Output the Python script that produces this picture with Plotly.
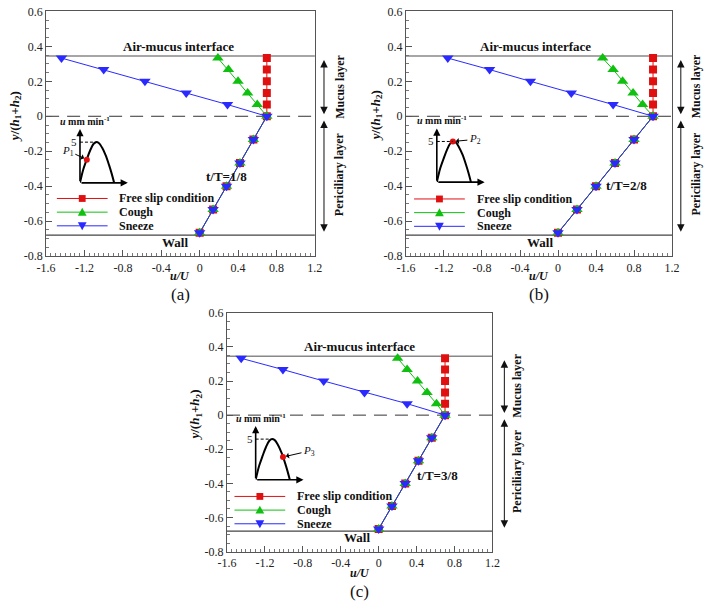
import plotly.graph_objects as go

W, H = 709, 606
FONT = "Liberation Serif, Times New Roman, serif"

# profile heights (normalised by h1+h2), bottom to top
y_pts = [-0.667, -0.533, -0.4, -0.267, -0.133, 0.0, 0.067, 0.133, 0.2, 0.267, 0.333]

# u/U for each case and time instant
free_a = [0.0, 0.14, 0.28, 0.42, 0.56, 0.70, 0.70, 0.70, 0.70, 0.70, 0.70]
cough_a = [0.0, 0.14, 0.28, 0.42, 0.56, 0.70, 0.60, 0.50, 0.40, 0.30, 0.19]
sneeze_a = [0.0, 0.14, 0.28, 0.42, 0.56, 0.70, 0.29, -0.14, -0.57, -1.00, -1.44]

free_b = [0.0, 0.20, 0.40, 0.60, 0.80, 1.00, 1.00, 1.00, 1.00, 1.00, 1.00]
cough_b = [0.0, 0.20, 0.40, 0.60, 0.80, 1.00, 0.89, 0.79, 0.68, 0.58, 0.47]
sneeze_b = [0.0, 0.20, 0.40, 0.60, 0.80, 1.00, 0.58, 0.14, -0.29, -0.72, -1.16]

free_c = [0.0, 0.14, 0.28, 0.42, 0.56, 0.70, 0.70, 0.70, 0.70, 0.70, 0.70]
cough_c = [0.0, 0.14, 0.28, 0.42, 0.56, 0.70, 0.61, 0.51, 0.41, 0.30, 0.20]
sneeze_c = [0.0, 0.14, 0.28, 0.42, 0.56, 0.70, 0.30, -0.15, -0.58, -1.01, -1.45]

interface_y = 0.345
wall_y = -0.68

# schematic cilia stroke curve for the insets
inset_t = [0, 0.05, 0.1, 0.2, 0.3, 0.4, 0.47, 0.55, 0.65, 0.75, 0.85, 0.93, 1.0]
inset_u = [0, 0.9, 1.7, 2.9, 4.0, 4.8, 5.0, 4.9, 4.3, 3.4, 2.2, 1.1, 0]
dots = {"a": (0.2, 2.85), "b": (0.47, 5.0), "c": (0.8, 2.8)}

x_ticks = [-1.6, -1.2, -0.8, -0.4, 0, 0.4, 0.8, 1.2]
x_labels = ["-1.6", "-1.2", "-0.8", "-0.4", "0", "0.4", "0.8", "1.2"]
y_ticks = [-0.8, -0.6, -0.4, -0.2, 0, 0.2, 0.4, 0.6]
y_labels = ["-0.8", "-0.6", "-0.4", "-0.2", "0", "0.2", "0.4", "0.6"]

names = ["Free slip condition", "Cough", "Sneeze"]
colors = ["#e01010", "#10c010", "#2a2aff"]
symbols = ["square", "triangle-up", "triangle-down"]
msizes = [8, 10, 10]


def px(x):
    return x / W


def py(y):
    return 1 - y / H


def key_path(kind, cx, cy, s):
    # legend key glyph, built in pixels then turned into paper fractions
    if kind == "square":
        pts = [(cx - s / 2, cy - s / 2), (cx + s / 2, cy - s / 2),
               (cx + s / 2, cy + s / 2), (cx - s / 2, cy + s / 2)]
    elif kind == "triangle-up":
        pts = [(cx - s / 2, cy + s * 0.4), (cx + s / 2, cy + s * 0.4), (cx, cy - s * 0.5)]
    else:
        pts = [(cx - s / 2, cy - s * 0.4), (cx + s / 2, cy - s * 0.4), (cx, cy + s * 0.5)]
    return "M" + " L".join(f"{px(a):.5f},{py(b):.5f}" for a, b in pts) + " Z"


panels = {
    "a": dict(n="", dom_x=(37, 312.3), dom_y=(4.5, 255), data=[free_a, cough_a, sneeze_a],
              tt="t/T=1/8", tt_xy=(0.28, -0.345), ami_x=-0.22, wall_x=-0.26,
              arrow_x=321.7, text_x=337.3, ytitle_x=5, xtitle_y=275.5, lab_y=294.5,
              leg=(48, 196), inset=(71.7, 180), plab="<i>P</i><sub>1</sub>", poff=(-19, -9)),
    "b": dict(n="2", dom_x=(405.7, 678.3), dom_y=(4.5, 255), data=[free_b, cough_b, sneeze_b],
              tt="t/T=2/8", tt_xy=(0.72, -0.395), ami_x=-0.24, wall_x=-0.19,
              arrow_x=687.3, text_x=702.5, ytitle_x=375, xtitle_y=275.5, lab_y=294.5,
              leg=(414, 196.5), inset=(437.3, 179.3), plab="<i>P</i><sub>2</sub>", poff=(22, -2)),
    "c": dict(n="3", dom_x=(222.3, 494.3), dom_y=(313, 557.5), data=[free_c, cough_c, sneeze_c],
              tt="t/T=3/8", tt_xy=(0.62, -0.356), ami_x=-0.2, wall_x=-0.23,
              arrow_x=506.5, text_x=520, ytitle_x=190, xtitle_y=579, lab_y=598.5,
              leg=(230, 501), inset=(251.7, 484), plab="<i>P</i><sub>3</sub>", poff=(26, -6)),
}

fig = go.Figure()
annotations = []
shapes = []
layout = {}

axis_common = dict(showline=True, mirror=True, linecolor="#555", linewidth=1,
                   showgrid=False, zeroline=False, ticks="inside", ticklen=6,
                   tickcolor="#555", tickfont=dict(family=FONT, size=12, color="#222"))
txt = dict(family=FONT, size=13, color="#111", weight="bold")
mid = dict(xanchor="center", yanchor="middle", showarrow=False)

for i, (key, p) in enumerate(panels.items()):
    n = p["n"]
    xa, ya = "x" + n, "y" + n
    for k in range(3):
        fig.add_trace(go.Scatter(
            x=p["data"][k], y=y_pts, xaxis=xa, yaxis=ya, mode="lines+markers",
            name=names[k], showlegend=False,
            line=dict(color=colors[k], width=1),
            marker=dict(symbol=symbols[k], size=msizes[k], color=colors[k])))

    layout["xaxis" + n] = dict(axis_common, domain=[px(p["dom_x"][0]), px(p["dom_x"][1])],
                               range=[-1.6, 1.2], anchor=ya, tickvals=x_ticks, ticktext=x_labels,
                               minor=dict(ticks="inside", ticklen=3, tick0=-1.6, dtick=0.05,
                                          tickcolor="#777"))
    layout["yaxis" + n] = dict(axis_common, domain=[py(p["dom_y"][1]), py(p["dom_y"][0])],
                               range=[-0.8, 0.6], anchor=xa, tickvals=y_ticks, ticktext=y_labels,
                               minor=dict(ticks="inside", ticklen=3, tick0=-0.8, dtick=0.05,
                                          tickcolor="#777"))

    # hand-drawn legend (tight rows like the original)
    lx, ly = p["leg"]
    for k in range(3):
        yy = ly + 14 * k
        shapes.append(dict(type="line", xref="paper", yref="paper", x0=px(lx), x1=px(lx + 52),
                           y0=py(yy), y1=py(yy), line=dict(color=colors[k], width=1)))
        shapes.append(dict(type="path", xref="paper", yref="paper",
                           path=key_path(symbols[k], lx + 26, yy, 7 if k == 0 else 9),
                           fillcolor=colors[k], line=dict(width=0)))
        annotations.append(dict(x=px(lx + 62), y=py(yy), xref="paper", yref="paper",
                                xanchor="left", yanchor="middle", text=names[k],
                                showarrow=False, font=dict(txt, size=12)))

    # interface, zero and wall lines
    shapes.append(dict(type="line", xref=xa + " domain", yref=ya, x0=0, x1=1,
                       y0=interface_y, y1=interface_y, line=dict(color="#888", width=1.5),
                       layer="below"))
    shapes.append(dict(type="line", xref=xa + " domain", yref=ya, x0=0, x1=1,
                       y0=0, y1=0, line=dict(color="#333", width=1, dash="13px,8px"),
                       layer="below"))
    shapes.append(dict(type="line", xref=xa + " domain", yref=ya, x0=0, x1=1,
                       y0=wall_y, y1=wall_y, line=dict(color="#444", width=1.2),
                       layer="below"))

    annotations += [
        dict(mid, x=p["ami_x"], y=0.4, xref=xa, yref=ya, text="Air-mucus interface", font=txt),
        dict(mid, x=p["wall_x"], y=-0.72, xref=xa, yref=ya, text="Wall", font=txt),
        dict(mid, x=p["tt_xy"][0], y=p["tt_xy"][1], xref=xa, yref=ya, text=p["tt"], font=txt),
        dict(mid, x=px(p["ytitle_x"]), y=0, xref="paper", yref=ya, textangle=-90,
             text="<i>y</i>/(<i>h</i><sub>1</sub>+<i>h</i><sub>2</sub>)", font=txt),
        dict(mid, x=0.5, y=py(p["xtitle_y"]), xref=xa + " domain", yref="paper",
             text="<i>u/U</i>", font=dict(txt, size=12)),
        dict(mid, x=0.5, y=py(p["lab_y"]), xref=xa + " domain", yref="paper",
             text="(" + key + ")", font=dict(family=FONT, size=17, color="#111")),
        # layer arrows
        dict(x=px(p["arrow_x"]), y=0.012, xref="paper", yref=ya, ax=0, ay=0.331,
             axref="pixel", ayref=ya, text="", showarrow=True, arrowside="end+start",
             arrowhead=2, arrowsize=1.5, arrowwidth=1, arrowcolor="#111"),
        dict(x=px(p["arrow_x"]), y=-0.66, xref="paper", yref=ya, ax=0, ay=-0.016,
             axref="pixel", ayref=ya, text="", showarrow=True, arrowside="end+start",
             arrowhead=2, arrowsize=1.5, arrowwidth=1, arrowcolor="#111"),
        dict(mid, x=px(p["text_x"]), y=0.17, xref="paper", yref=ya, text="Mucus layer",
             textangle=-90, font=dict(txt, size=12)),
        dict(mid, x=px(p["text_x"]), y=-0.33, xref="paper", yref=ya, text="Periciliary layer",
             textangle=-90, font=dict(txt, size=12)),
    ]

    # inset sketch of the forcing
    m = str(4 + i)
    ix, iy = "x" + m, "y" + m
    ox, oy = p["inset"]
    layout["xaxis" + m] = dict(domain=[px(ox), px(ox + 49)], range=[0, 1.4], visible=False,
                               anchor=iy)
    layout["yaxis" + m] = dict(domain=[py(oy), py(oy - 55)], range=[0, 6.6], visible=False,
                               anchor=ix)
    fig.add_trace(go.Scatter(x=inset_t, y=inset_u, xaxis=ix, yaxis=iy, mode="lines",
                             line=dict(color="black", width=2, shape="spline"),
                             showlegend=False, hoverinfo="skip"))
    d = dots[key]
    fig.add_trace(go.Scatter(x=[d[0]], y=[d[1]], xaxis=ix, yaxis=iy, mode="markers",
                             marker=dict(color="#e01010", size=6),
                             showlegend=False, hoverinfo="skip"))
    shapes.append(dict(type="line", xref=ix, yref=iy, x0=0, x1=0.47, y0=5, y1=5,
                       line=dict(color="black", width=1, dash="3px,2px")))
    annotations += [
        dict(x=1.4, y=0, xref=ix, yref=iy, ax=0, ay=0, axref=ix, ayref=iy, text="",
             showarrow=True, arrowhead=2, arrowsize=0.9, arrowwidth=1.6, arrowcolor="black"),
        dict(x=0, y=6.6, xref=ix, yref=iy, ax=0, ay=0, axref=ix, ayref=iy, text="",
             showarrow=True, arrowhead=2, arrowsize=0.9, arrowwidth=1.6, arrowcolor="black"),
        dict(x=1.42, y=0, xref=ix, yref=iy, xanchor="left", yanchor="middle",
             text="<i>t</i> s", showarrow=False, font=dict(txt, size=10)),
        dict(x=0.15, y=6.6, xref=ix, yref=iy, xanchor="center", yanchor="bottom",
             text="<i>u</i> mm min<sup>-1</sup>", showarrow=False, font=dict(txt, size=10)),
        dict(x=0, y=5, xref=ix, yref=iy, xanchor="right", yanchor="middle", xshift=-1,
             text="5", showarrow=False, font=dict(family=FONT, size=11, color="#111")),
        dict(x=d[0], y=d[1], xref=ix, yref=iy, ax=p["poff"][0], ay=p["poff"][1],
             text=p["plab"], showarrow=True, arrowhead=1, arrowsize=1,
             arrowwidth=1, arrowcolor="black", standoff=3,
             font=dict(family=FONT, size=11, color="#111")),
    ]

fig.update_layout(layout)
fig.update_layout(width=W, height=H, margin=dict(l=0, r=0, t=0, b=0),
                  paper_bgcolor="white", plot_bgcolor="white",
                  annotations=annotations, shapes=shapes, showlegend=False)

fig.write_html("out.html", config={"displayModeBar": False},
               post_script="document.body.style.margin='0';")
